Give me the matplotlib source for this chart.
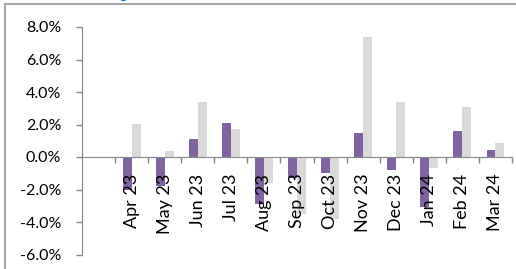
import matplotlib
matplotlib.use("Agg")
import matplotlib.pyplot as plt
from matplotlib.lines import Line2D
import numpy as np

categories = ["Apr 23", "May 23", "Jun 23", "Jul 23", "Aug 23", "Sep 23",
              "Oct 23", "Nov 23", "Dec 23", "Jan 24", "Feb 24", "Mar 24"]
series_a = [-2.0, -1.8, 1.1, 2.1, -2.9, -1.3, -1.0, 1.5, -0.8, -3.1, 1.6, 0.45]
series_b = [2.05, 0.35, 3.4, 1.7, -1.6, -3.5, -3.8, 7.4, 3.4, -0.7, 3.1, 0.85]
yticks = [-6, -4, -2, 0, 2, 4, 6, 8]

plt.rcParams['font.family'] = ['Lato', 'DejaVu Sans']

fig = plt.figure(figsize=(5.16, 2.69), dpi=100)
ax = fig.add_axes([82/516, 1-254.5/269, 430/516, (254.5-27)/269])

pos = np.arange(1, len(categories) + 1)
w = 0.27
ax.bar(pos - w/2, series_a, width=w, color="#8064a2", zorder=1)
ax.bar(pos + w/2, series_b, width=w, color="#d9d9d9", zorder=1)

ax.set_xlim(-0.5, 12.5)
ax.set_ylim(-6, 8)

ax.tick_params(axis='x', which='major', length=4, width=1, color="#868686",
               direction='out', labelbottom=False)
ax.tick_params(axis='x', which='minor', length=0, pad=12, labelrotation=90,
               labelsize=13)
ax.tick_params(axis='y', length=4, width=1, color="#868686", direction='out',
               pad=11, labelsize=11.5)

ax.set_yticks(yticks)
ax.set_yticklabels([f"{v:.1f}%" for v in yticks])
ax.set_xticks(np.arange(0.5, 13.0, 1.0))
ax.set_xticks(pos, minor=True)
ax.set_xticklabels(categories, minor=True)
for lbl in ax.get_xticklabels(minor=True):
    lbl.set_rotation(90)
    lbl.set_va('top')
    lbl.set_ha('center')
    lbl.set_zorder(5)

for s in ['top', 'right']:
    ax.spines[s].set_visible(False)
ax.spines['bottom'].set_position(('data', 0))
ax.spines['bottom'].set_color("#868686")
ax.spines['left'].set_color("#868686")
ax.spines['bottom'].set_zorder(3)

# outer frame
fig.add_artist(Line2D([5/516, 1], [1-4/269, 1-4/269], transform=fig.transFigure,
                      color="#a6a6a6", lw=1.5))
fig.add_artist(Line2D([5/516, 5/516], [0, 1-4/269], transform=fig.transFigure,
                      color="#a6a6a6", lw=1.5))
fig.text(123/516, 1.0 + 1/269, "g", color="#0070c0", fontsize=10,
         ha='center', va='baseline', fontweight='bold')

fig.savefig("out.png", dpi=100)
